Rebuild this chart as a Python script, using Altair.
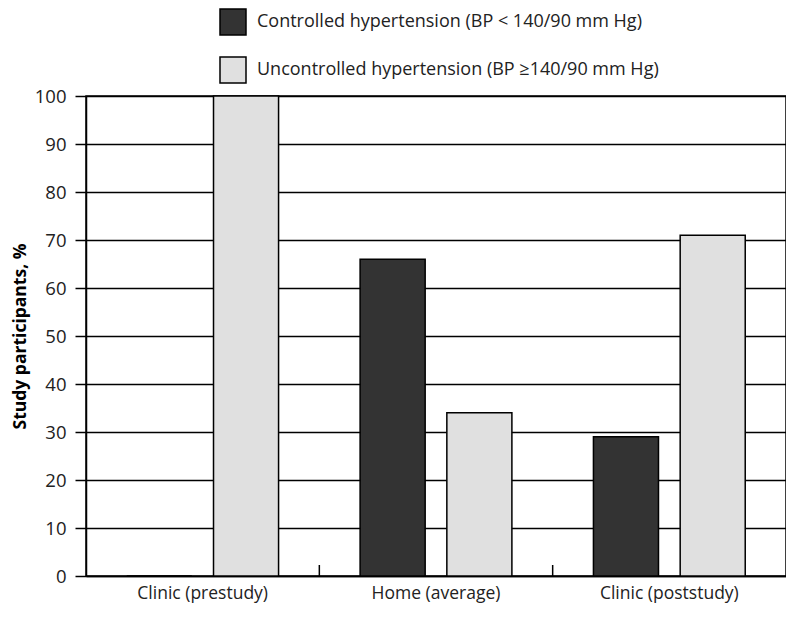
import altair as alt
import pandas as pd

categories = ["Clinic (prestudy)", "Home (average)", "Clinic (poststudy)"]
series = ["Controlled hypertension (BP < 140/90 mm Hg)",
          "Uncontrolled hypertension (BP \u2265140/90 mm Hg)"]
controlled = [0, 66, 29]
uncontrolled = [100, 34, 71]
colors = ["#333333", "#e0e0e0"]

rows = []
for c, a, b in zip(categories, controlled, uncontrolled):
    rows.append({"cat": c, "series": series[0], "value": a})
    rows.append({"cat": c, "series": series[1], "value": b})
df = pd.DataFrame(rows)
ticks_df = pd.DataFrame({"cat": categories[1:]})

FONT = "Open Sans"
W, H = 700, 480

xscale = alt.Scale(domain=categories, paddingInner=0, paddingOuter=0)

bars = alt.Chart(df).mark_bar(stroke="black", strokeWidth=1.5).encode(
    x=alt.X("cat:N", scale=xscale, sort=categories,
            axis=alt.Axis(title=None, ticks=False, labelAngle=0, labelFontSize=17.5,
                          labelFont=FONT, labelColor="#222", labelPadding=8,
                          domainColor="black", domainWidth=1.5)),
    xOffset=alt.XOffset("series:N", sort=series,
                        scale=alt.Scale(domain=series, paddingInner=0.25, paddingOuter=0.47)),
    y=alt.Y("value:Q", scale=alt.Scale(domain=[0, 100]),
            axis=alt.Axis(title="Study participants, %", values=list(range(0, 101, 10)),
                          tickSize=11, tickColor="black", tickWidth=1.5,
                          gridColor="black", gridWidth=1.5,
                          domainColor="black", domainWidth=1.5,
                          labelFontSize=18.5, labelFont=FONT, labelColor="#222", labelPadding=9,
                          titleFont=FONT, titleFontSize=17.5, titleFontWeight="bold",
                          titleColor="black", titlePadding=5)),
    color=alt.Color("series:N", sort=series,
                    scale=alt.Scale(domain=series, range=colors),
                    legend=alt.Legend(title=None, orient="none", legendX=133, legendY=-88,
                                      symbolType="square", symbolSize=676,
                                      symbolStrokeColor="black", symbolStrokeWidth=1.5,
                                      labelFont=FONT, labelFontSize=18, labelColor="#222",
                                      labelLimit=0, labelOffset=10, rowPadding=16)),
)

ticks = alt.Chart(ticks_df).mark_rule(color="black", strokeWidth=1.5).encode(
    x=alt.X("cat:N", scale=xscale, bandPosition=0),
    y=alt.value(H),
    y2=alt.value(H - 11),
)

chart = alt.layer(bars, ticks).properties(
    width=W, height=H, padding={"left": 3, "top": 0, "right": 0, "bottom": 6}
).configure_view(stroke="black", strokeWidth=1.5)

chart.save("out.html", embed_options={"renderer": "svg", "actions": False})
